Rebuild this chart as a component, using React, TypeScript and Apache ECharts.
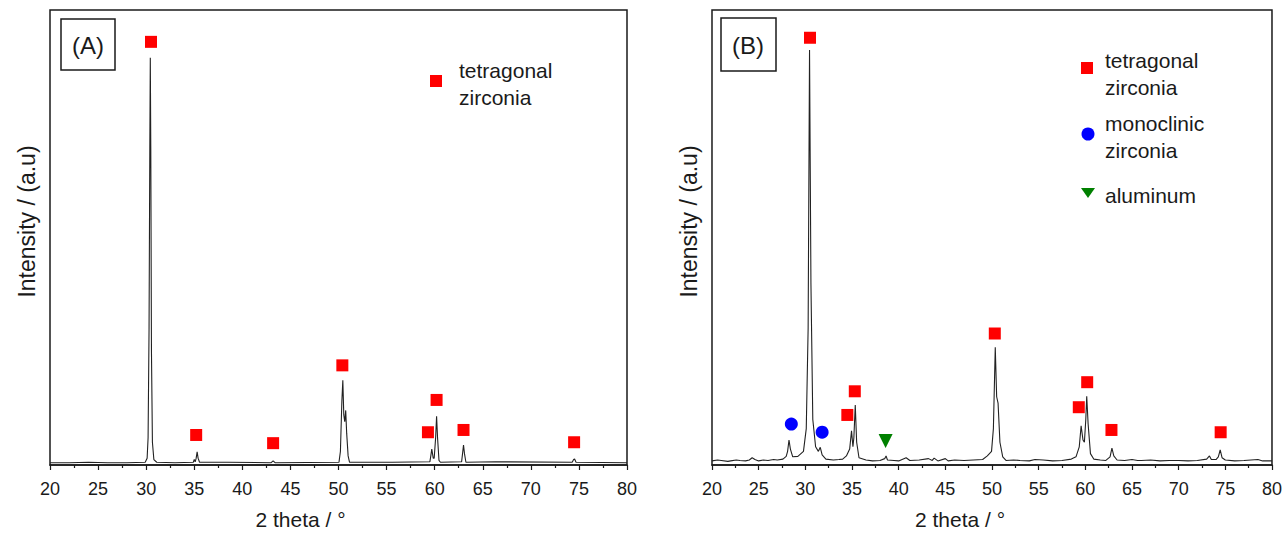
import React, { useEffect, useRef } from "react";
import * as echarts from "echarts";

// X-axis tick range
const X_MIN = 20;
const X_MAX = 80;
const X_STEP = 5;

// Panel A trace: [2theta, intensity]
const traceA: number[][] = [
  [20, 0.5], [22, 0.5], [24, 0.6], [26, 0.5], [28, 0.5], [29.9, 0.6], [30.1, 1.5], [30.2, 6],
  [30.3, 30], [30.38, 70], [30.43, 89.5], [30.48, 70], [30.55, 25], [30.65, 5], [30.8, 1.2],
  [31.1, 0.6], [33, 0.5], [34.9, 0.6], [35.0, 1.2], [35.1, 0.7], [35.2, 1.5], [35.3, 2.9],
  [35.4, 1.5], [35.55, 0.6], [38.5, 0.6], [43.0, 0.5], [43.2, 0.9], [43.4, 0.5], [50.05, 0.6],
  [50.2, 3], [50.35, 14], [50.45, 18.6], [50.55, 11], [50.65, 9.5], [50.75, 12], [50.85, 7],
  [51.0, 2], [51.15, 0.6], [55.6, 0.6], [59.5, 0.7], [59.6, 2], [59.7, 3.5], [59.85, 1.5],
  [59.95, 1.5], [60.1, 6], [60.2, 10.7], [60.3, 6], [60.45, 1], [60.6, 0.6], [62.8, 0.7],
  [62.9, 2.5], [63.0, 4.4], [63.1, 2.5], [63.25, 0.6], [66.3, 0.7], [74.3, 0.6], [74.45, 1.2],
  [74.55, 1.3], [74.7, 0.6], [80, 0.5],
];

// Panel A markers (tetragonal zirconia)
const tetraA: number[][] = [
  [30.5, 93], [35.2, 6.6], [43.2, 4.8], [50.4, 21.9], [59.3, 7.2], [60.2, 14.3], [63.0, 7.7], [74.5, 5.0],
];

// Panel B trace
const traceB: number[][] = [
  [20, 0.9], [20.6, 1.1], [21, 1.0], [21.7, 0.8], [22, 0.9], [22.6, 1.1], [23, 1.0], [23.6, 0.9],
  [24, 1.1], [24.3, 1.6], [24.6, 1.2], [25, 0.9], [25.5, 1.1], [26, 1.0], [26.6, 1.2], [27, 1.1],
  [27.6, 1.3], [27.95, 1.9], [28.1, 3], [28.25, 5.5], [28.4, 3.5], [28.65, 1.8], [29.2, 1.9],
  [29.8, 3], [30.1, 8], [30.3, 30], [30.45, 91.2], [30.6, 40], [30.8, 10], [31.1, 4], [31.4, 3],
  [31.6, 3.9], [31.8, 2.2], [32.2, 1.3], [33, 1.1], [33.6, 1.2], [34, 1.3], [34.4, 2], [34.75, 3.5],
  [34.95, 7.5], [35.1, 4], [35.2, 6], [35.35, 13.2], [35.5, 5], [35.75, 1.6], [36.5, 1.1],
  [37.2, 0.9], [38.0, 1.0], [38.5, 1.4], [38.65, 2.0], [38.8, 1.1], [39.5, 1.0], [40, 0.9],
  [40.8, 1.6], [41.2, 1.0], [42.2, 1.1], [43.2, 1.4], [43.6, 1.0], [43.8, 1.5], [44.2, 0.9],
  [45, 1.4], [45.3, 0.9], [46, 1.1], [47, 1.0], [48, 1.1], [49.0, 1.2], [49.5, 2], [49.95, 3],
  [50.15, 8], [50.35, 25.9], [50.5, 15], [50.65, 13.6], [50.85, 5], [51.15, 1.8], [51.5, 1.0],
  [52.3, 1.1], [53, 1.0], [54, 0.9], [54.6, 1.2], [55.5, 1.1], [56.5, 0.9], [57.5, 1.0],
  [58.5, 1.3], [59.0, 1.8], [59.35, 4], [59.55, 8.6], [59.75, 5.5], [59.9, 5], [60.05, 10],
  [60.15, 15.1], [60.3, 9], [60.55, 2.5], [60.9, 1.3], [61.6, 1.1], [62.2, 1.0], [62.65, 1.8],
  [62.85, 3.7], [63.05, 2.0], [63.4, 1.1], [64.2, 1.0], [65, 1.2], [65.6, 1.0], [66, 1.0],
  [67, 1.1], [68, 0.9], [69, 1.0], [70, 1.0], [71, 0.9], [72, 1.0], [73.0, 1.3], [73.3, 2.0],
  [73.5, 1.2], [74.0, 1.2], [74.25, 1.8], [74.45, 3.3], [74.65, 1.6], [75.0, 1.1], [76, 0.9],
  [77, 1.0], [78.5, 1.2], [79, 0.9], [80, 0.9],
];

// Panel B markers
const tetraB: number[][] = [
  [30.5, 93.9], [34.5, 11.0], [35.3, 16.2], [50.3, 28.9], [59.3, 12.7], [60.2, 18.2], [62.8, 7.7], [74.5, 7.2],
];
const monoB: number[][] = [[28.5, 9.0], [31.8, 7.2]];
const aluB: number[][] = [[38.6, 5.3]];

const FONT = "Liberation Sans, Arial, sans-serif";
const INK = "#1a1a1a";

function xAxisFor(gridIndex: number, shift: number) {
  return {
    type: "value",
    gridIndex,
    min: X_MIN,
    max: X_MAX,
    interval: X_STEP,
    name: "2 theta / \u00b0",
    nameLocation: "middle",
    nameGap: 44,
    nameTextStyle: { fontFamily: FONT, fontSize: 21, color: INK, padding: [0, shift, 0, 0] },
    axisLine: { show: true, onZero: false, lineStyle: { color: INK, width: 1.5 } },
    axisTick: { show: true, inside: false, length: 5, lineStyle: { color: INK, width: 1.2 } },
    minorTick: { show: true, splitNumber: 2, length: 3, lineStyle: { color: INK, width: 1.2 } },
    axisLabel: { fontFamily: FONT, fontSize: 18, color: INK, margin: 15 },
    splitLine: { show: false },
  };
}

function yAxisFor(gridIndex: number) {
  return {
    type: "value",
    gridIndex,
    min: 0,
    max: 100,
    name: "Intensity / (a.u)",
    nameLocation: "middle",
    nameGap: 12,
    nameTextStyle: { fontFamily: FONT, fontSize: 23, color: INK, padding: [0, 0, 0, 32] },
    axisLine: { show: false },
    axisTick: { show: false },
    axisLabel: { show: false },
    splitLine: { show: false },
  };
}

function traceSeries(idx: number, data: number[][]) {
  return {
    type: "line",
    xAxisIndex: idx,
    yAxisIndex: idx,
    data,
    showSymbol: false,
    smooth: false,
    lineStyle: { color: "#222", width: 1.1 },
    silent: true,
  };
}

function markerSeries(idx: number, data: number[][], symbol: string, size: number, color: string, rotate = 0) {
  return {
    type: "scatter",
    xAxisIndex: idx,
    yAxisIndex: idx,
    data,
    symbol,
    symbolSize: size,
    symbolRotate: rotate,
    itemStyle: { color, opacity: 1 },
    silent: true,
  };
}

export default function App() {
  const ref = useRef<HTMLDivElement>(null);
  useEffect(() => {
    if (!ref.current) return;
    const chart = echarts.init(ref.current, undefined, { renderer: "svg" });
    const textStyle = { fontFamily: FONT, fontSize: 21, fill: INK };
    chart.setOption({
      animation: false,
      backgroundColor: "#fff",
      grid: [
        { left: 50, top: 10, width: 577, height: 456, show: true, borderColor: INK, borderWidth: 1.5, backgroundColor: "transparent" },
        { left: 712, top: 10, width: 560, height: 456, show: true, borderColor: INK, borderWidth: 1.5, backgroundColor: "transparent" },
      ],
      xAxis: [xAxisFor(0, 76), xAxisFor(1, 64)],
      yAxis: [yAxisFor(0), yAxisFor(1)],
      series: [
        traceSeries(0, traceA),
        markerSeries(0, tetraA, "rect", 12, "#ff0000"),
        traceSeries(1, traceB),
        markerSeries(1, tetraB, "rect", 12, "#ff0000"),
        markerSeries(1, monoB, "circle", 13, "#0000ff"),
        markerSeries(1, aluB, "triangle", 14, "#008000", 180),
      ],
      graphic: [
        { type: "rect", shape: { x: 61, y: 19, width: 54, height: 51 }, style: { fill: "#fff", stroke: INK, lineWidth: 1.5 } },
        { type: "text", x: 88, y: 45, style: { ...textStyle, fontSize: 24, text: "(A)", align: "center", verticalAlign: "middle" } },
        { type: "rect", shape: { x: 721, y: 18, width: 55, height: 53 }, style: { fill: "#fff", stroke: INK, lineWidth: 1.5 } },
        { type: "text", x: 748, y: 45, style: { ...textStyle, fontSize: 24, text: "(B)", align: "center", verticalAlign: "middle" } },
        // legend A
        { type: "rect", shape: { x: 430, y: 75, width: 12, height: 12 }, style: { fill: "#ff0000" } },
        { type: "text", x: 459, y: 57, style: { ...textStyle, text: "tetragonal\nzirconia", lineHeight: 27, verticalAlign: "top" } },
        // legend B
        { type: "rect", shape: { x: 1081, y: 62, width: 12, height: 12 }, style: { fill: "#ff0000" } },
        { type: "text", x: 1105, y: 47, style: { ...textStyle, text: "tetragonal\nzirconia", lineHeight: 27, verticalAlign: "top" } },
        { type: "circle", shape: { cx: 1088, cy: 134, r: 6.5 }, style: { fill: "#0000ff" } },
        { type: "text", x: 1105, y: 110, style: { ...textStyle, text: "monoclinic\nzirconia", lineHeight: 27, verticalAlign: "top" } },
        { type: "polygon", shape: { points: [[1081, 188], [1095, 188], [1088, 198]] }, style: { fill: "#008000" } },
        { type: "text", x: 1105, y: 195, style: { ...textStyle, text: "aluminum", verticalAlign: "middle" } },
      ],
    });
    return () => chart.dispose();
  }, []);
  return <div ref={ref} style={{ position: "fixed", left: 0, top: 0, width: 1285, height: 535 }} />;
}
